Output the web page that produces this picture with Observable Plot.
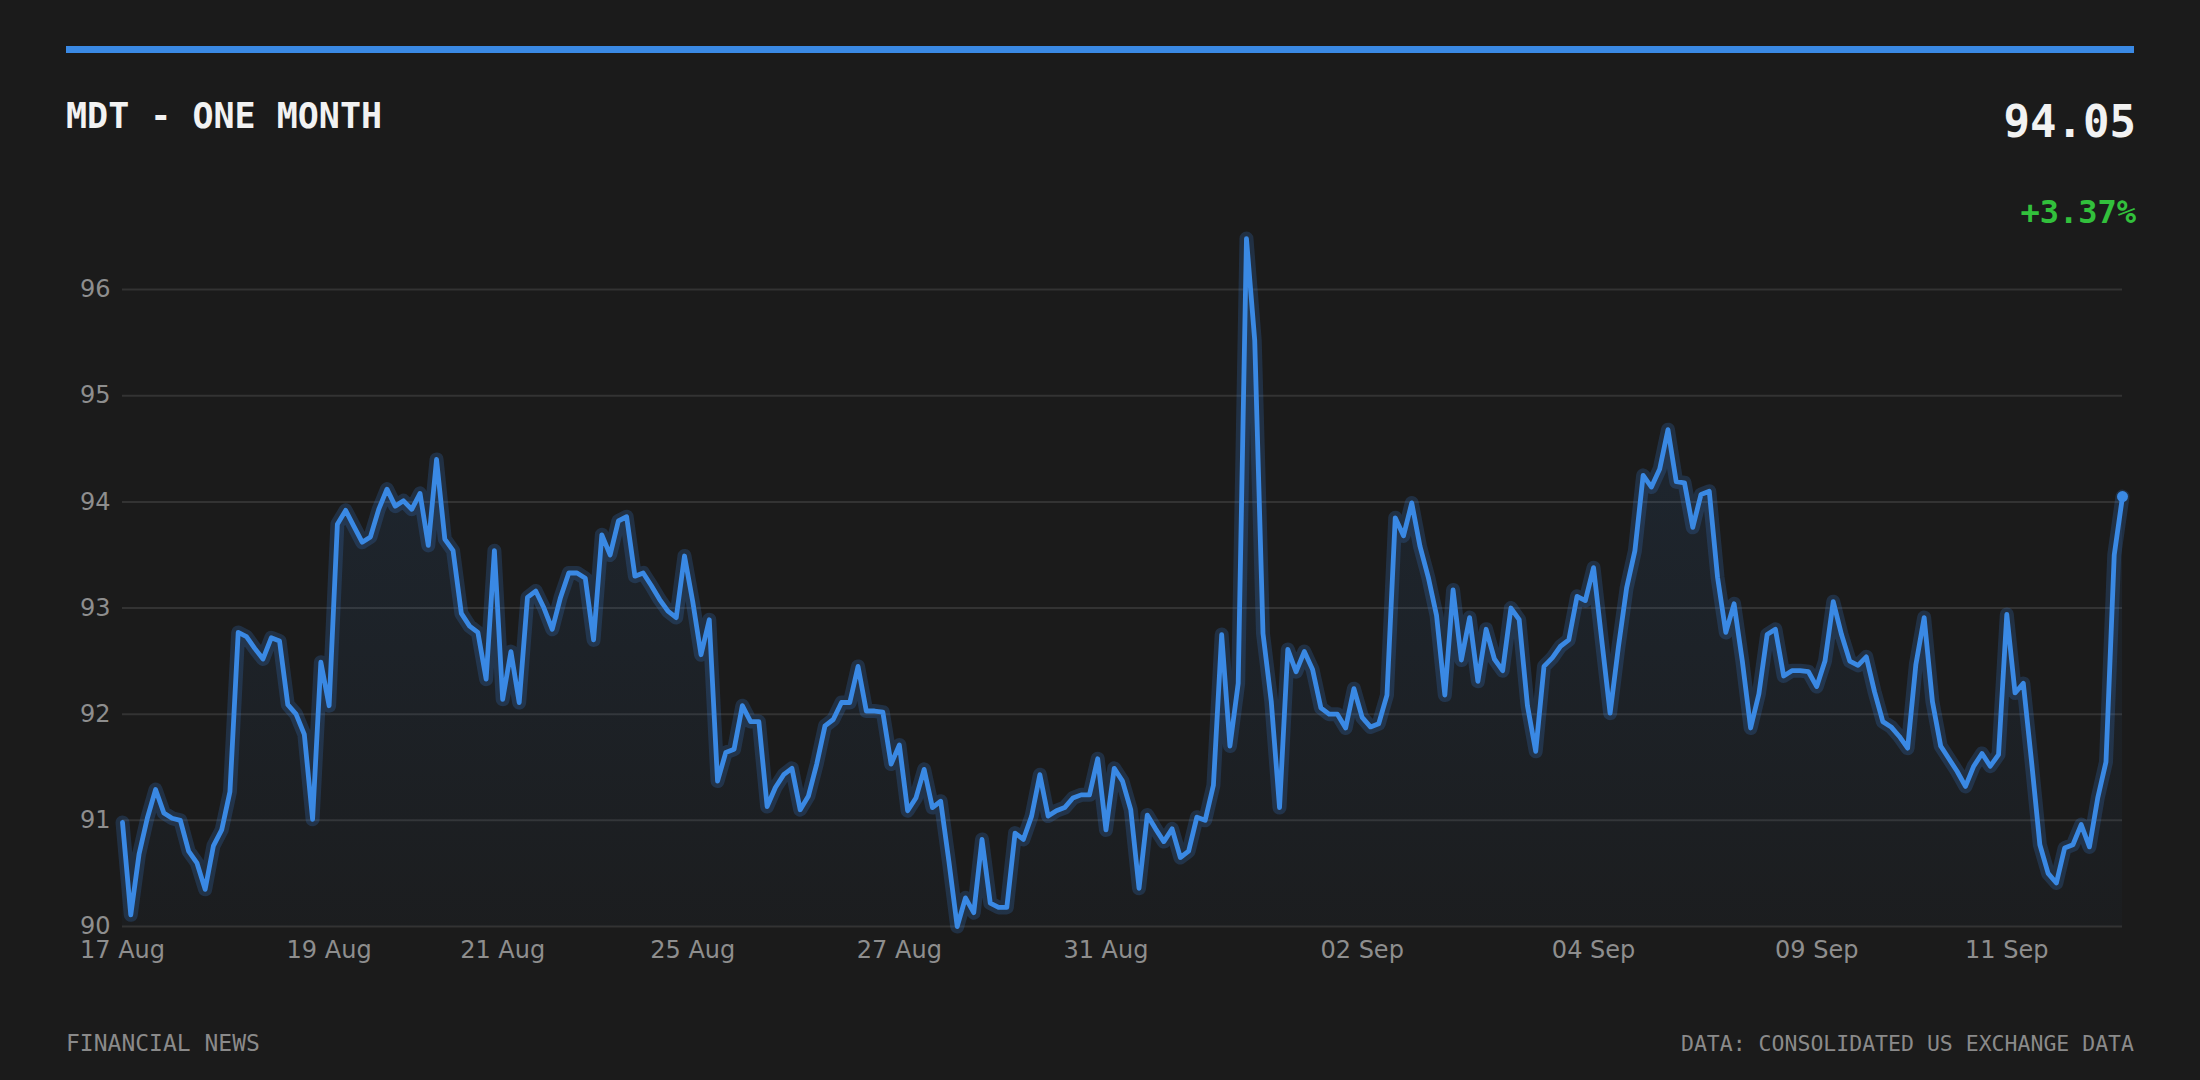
<!DOCTYPE html>
<html>
<head>
<meta charset="utf-8">
<script src="https://cdn.jsdelivr.net/npm/d3@7"></script>
<script src="https://cdn.jsdelivr.net/npm/@observablehq/plot@0.6"></script>
<style>
  html, body { margin: 0; padding: 0; background: #1b1b1b; }
  #page { position: relative; width: 2200px; height: 1080px; background: #1b1b1b; overflow: hidden; }
  .topbar { position: absolute; left: 66px; top: 46px; width: 2068px; height: 7px; background: #3a89e4; }
  .title { position: absolute; left: 66px; top: 99px; font: bold 35px/1 "DejaVu Sans Mono", monospace; color: #f2f2f2; white-space: nowrap; }
  .price { position: absolute; right: 64px; top: 100px; font: bold 44px/1 "DejaVu Sans Mono", monospace; color: #f2f2f2; white-space: nowrap; }
  .change { position: absolute; right: 64px; top: 196px; font: bold 32px/1 "DejaVu Sans Mono", monospace; color: #32c03c; white-space: nowrap; }
  #chart { position: absolute; left: 0; top: 200px; width: 2200px; }
  .foot-l { position: absolute; left: 66px; top: 1032px; font: 23px/1 "DejaVu Sans Mono", monospace; color: #8a8a8a; white-space: nowrap; }
  .foot-r { position: absolute; right: 66px; top: 1033px; font: 21.5px/1 "DejaVu Sans Mono", monospace; color: #8a8a8a; white-space: nowrap; }
</style>
</head>
<body>
<div id="page">
  <div class="topbar"></div>
  <div class="title">MDT - ONE MONTH</div>
  <div class="price">94.05</div>
  <div class="change">+3.37%</div>
  <div id="chart"></div>
  <div class="foot-l">FINANCIAL NEWS</div>
  <div class="foot-r">DATA: CONSOLIDATED US EXCHANGE DATA</div>
</div>
<script>
// Price series (one value per sampled point, in order)
const prices = [
  90.98, 90.11, 90.68, 91.02, 91.29, 91.07, 91.02, 91.0, 90.71, 90.6,
  90.35, 90.76, 90.91, 91.27, 92.77, 92.73, 92.62, 92.52, 92.72, 92.69,
  92.09, 92.0, 91.81, 91.01, 92.49, 92.08, 93.79, 93.92, 93.77, 93.62,
  93.67, 93.93, 94.12, 93.96, 94.01, 93.93, 94.08, 93.59, 94.40, 93.65,
  93.54, 92.95,
  92.83, 92.77, 92.33, 93.54, 92.14, 92.59, 92.11, 93.10, 93.16, 93.0,
  92.80, 93.10, 93.33, 93.33, 93.28, 92.70, 93.69, 93.50, 93.82, 93.86,
  93.30, 93.33, 93.21, 93.08, 92.97, 92.91, 93.49, 93.06, 92.56, 92.89,
  91.37, 91.64, 91.67, 92.08, 91.93, 91.93, 91.13, 91.31, 91.43, 91.49,
  91.10,
  91.23, 91.53, 91.89, 91.95, 92.11, 92.11, 92.45, 92.03, 92.03, 92.02,
  91.53, 91.71, 91.09, 91.21, 91.48, 91.12, 91.18, 90.61, 90.0, 90.27,
  90.13, 90.82, 90.22, 90.18, 90.18, 90.88, 90.82, 91.04, 91.43, 91.04,
  91.09, 91.12, 91.21, 91.24, 91.24, 91.58, 90.91, 91.49, 91.37, 91.10,
  90.36,
  91.05, 90.92, 90.80, 90.92, 90.65, 90.71, 91.03, 91.0, 91.33, 92.75,
  91.70, 92.29, 96.48, 95.52, 92.76, 92.12, 91.12, 92.61, 92.40, 92.59,
  92.42, 92.06, 92.0, 92.0, 91.87, 92.24, 91.97, 91.88, 91.91, 92.18,
  93.85, 93.68, 93.99, 93.58, 93.29, 92.93, 92.18, 93.17, 92.51, 92.91,
  92.31,
  92.80, 92.52, 92.41, 93.0, 92.89, 92.08, 91.65, 92.45, 92.53, 92.64,
  92.70, 93.11, 93.07, 93.38, 92.69, 92.01, 92.63, 93.19, 93.54, 94.25,
  94.14, 94.31, 94.68, 94.19, 94.18, 93.76, 94.07, 94.10, 93.29, 92.77,
  93.04, 92.50, 91.87, 92.19, 92.75, 92.80, 92.36, 92.41, 92.41, 92.40,
  92.26,
  92.50, 93.06, 92.75, 92.50, 92.46, 92.54, 92.21, 91.93, 91.88, 91.79,
  91.68, 92.47, 92.91, 92.12, 91.70, 91.58, 91.46, 91.32, 91.51, 91.63,
  91.51, 91.62, 92.94, 92.20, 92.29, 91.55, 90.77, 90.50, 90.41, 90.74,
  90.77, 90.96, 90.75, 91.21, 91.55, 93.50, 94.05
];

// X tick positions (point index where each day starts) and their labels
const tickIndex = [0, 25, 46, 69, 94, 119, 150, 178, 205, 228];
const tickLabels = ["17 Aug", "19 Aug", "21 Aug", "25 Aug", "27 Aug", "31 Aug", "02 Sep", "04 Sep", "09 Sep", "11 Sep"];

// Y ticks
const yTicks = [90, 91, 92, 93, 94, 95, 96];
const yDomain = [90, 96.5];

const lineColor = "#3a89e4";
const data = prices.map((v, i) => ({i, v}));
const last = data.slice(-1);

const chart = Plot.plot({
  width: 2200,
  height: 800,
  marginLeft: 122,
  marginRight: 78,
  marginTop: 36,
  marginBottom: 74,
  style: {background: "transparent", color: "#8e8e8e", fontFamily: "DejaVu Sans, sans-serif", fontSize: "24px"},
  x: {domain: [0, prices.length - 1]},
  y: {domain: yDomain},
  marks: [
    Plot.ruleY(yTicks, {stroke: "#333333", strokeWidth: 2}),
    Plot.areaY(data, {x: "i", y1: yDomain[0], y2: "v", fill: "url(#areaGrad)"}),
    Plot.lineY(data, {x: "i", y: "v", stroke: lineColor, strokeWidth: 14, strokeOpacity: 0.2, strokeLinejoin: "round", strokeLinecap: "round"}),
    Plot.lineY(data, {x: "i", y: "v", stroke: lineColor, strokeWidth: 4.8, strokeLinejoin: "round", strokeLinecap: "round"}),
    Plot.dot(last, {x: "i", y: "v", r: 5.5, fill: lineColor, stroke: "none"}),
    Plot.axisY({ticks: yTicks, tickSize: 0, tickPadding: 12, label: null, tickFormat: d => String(d)}),
    Plot.axisX({ticks: tickIndex, tickSize: 0, tickPadding: 14, label: null, tickFormat: d => tickLabels[tickIndex.indexOf(d)]})
  ]
});

const ns = "http://www.w3.org/2000/svg";
const defs = document.createElementNS(ns, "defs");
defs.innerHTML = '<linearGradient id="areaGrad" x1="0" y1="0" x2="0" y2="1">' +
  '<stop offset="0" stop-color="' + lineColor + '" stop-opacity="0.13"/>' +
  '<stop offset="1" stop-color="' + lineColor + '" stop-opacity="0.02"/>' +
  '</linearGradient>';
chart.insertBefore(defs, chart.firstChild);

document.getElementById("chart").appendChild(chart);
</script>
</body>
</html>
